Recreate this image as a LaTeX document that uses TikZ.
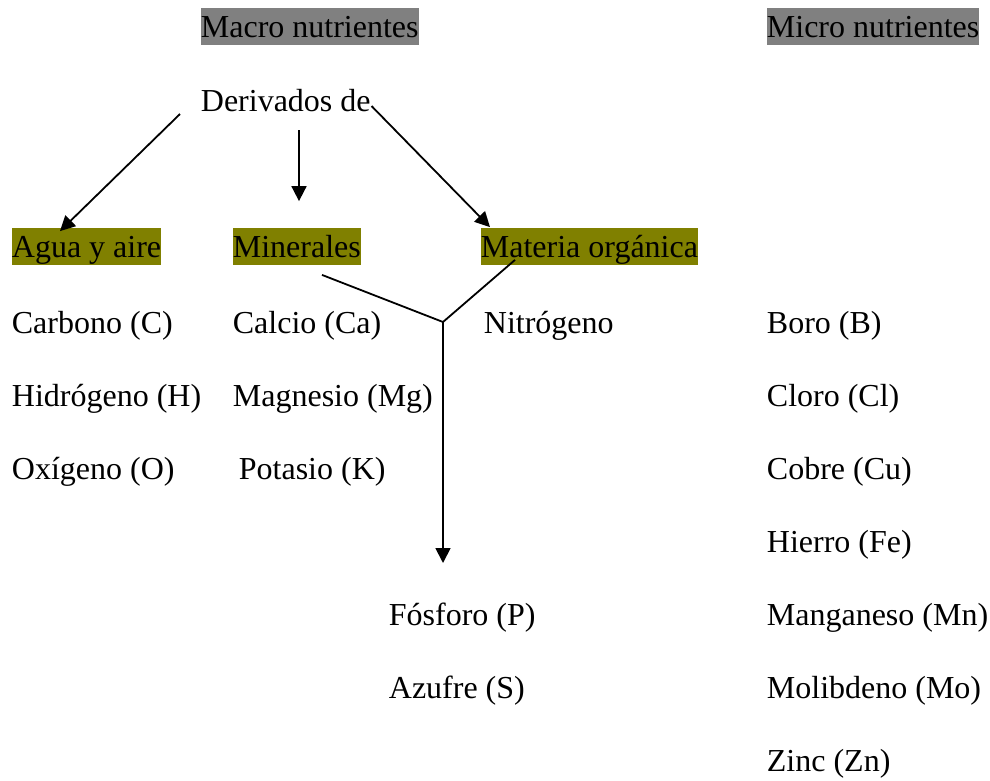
\documentclass[tikz,border=0pt]{standalone}
\usepackage{fontspec}
\setmainfont{Liberation Serif}
\usetikzlibrary{arrows.meta,calc,positioning}
\definecolor{hlolive}{HTML}{808000}
\definecolor{hlgray}{HTML}{808080}

\begin{document}
\begin{tikzpicture}[x=1pt, y=-1pt, line width=1.8pt,
  txt/.style={inner sep=0pt, anchor=base west, text height=29pt, text depth=8pt,
              font=\fontsize{32}{38}\selectfont},
  head/.style={txt, fill=hlgray},
  grp/.style={txt, fill=hlolive},
  arr/.style={-{Triangle[length=15pt, width=15pt]}}]
\useasboundingbox (0,0) rectangle (990,780);
\node[head] (macro) at (200,37) {Macro nutrientes};
\node[head] (micro) at (766,37) {Micro nutrientes};
\node[txt] (deriv) at (200,111) {Derivados de};
\node[grp] (agua) at (11,257) {Agua y aire};
\node[grp] (miner) at (232,257) {Minerales};
\node[grp] (mat) at (480,257) {Materia orgánica};
\foreach \t [count=\i] in {Carbono (C), Hidrógeno (H), Oxígeno (O)}
  \node[txt] (agua\i) at (11,{260+73*\i}) {\t};
\foreach \x/\t [count=\i] in {232/Calcio (Ca), 232/Magnesio (Mg), 238/Potasio (K)}
  \node[txt] (miner\i) at (\x,{260+73*\i}) {\t};
\node[txt] (nitro) at (483,333) {Nitrógeno};
\node[txt] (fosf) at (388,625) {Fósforo (P)};
\node[txt] (azuf) at (388,698) {Azufre (S)};
\foreach \t [count=\i] in {Boro (B), Cloro (Cl), Cobre (Cu), Hierro (Fe),
                           Manganeso (Mn), Molibdeno (Mo), Zinc (Zn)}
  \node[txt] (micro\i) at (766,{260+73*\i}) {\t};
\draw[arr] ($(deriv.base west)+(-20,3)$) -- ($(agua.north west)+(49,4)$);
\draw[arr] ($(deriv.base west)+(99,19)$) -- ($(miner.north west)+(67,-26)$);
\draw[arr] ($(deriv.base east)+(0,-5)$) -- ($(mat.north west)+(10,0)$);
\coordinate (jn) at ($(nitro.base west)+(-40,-11)$);
\draw ($(miner.south west)+(90,9)$) -- (jn) -- ($(mat.south west)+(35,-6)$);
\draw[arr] (jn) -- ($(fosf.base west)+(55,-62)$);
\end{tikzpicture}
\end{document}
